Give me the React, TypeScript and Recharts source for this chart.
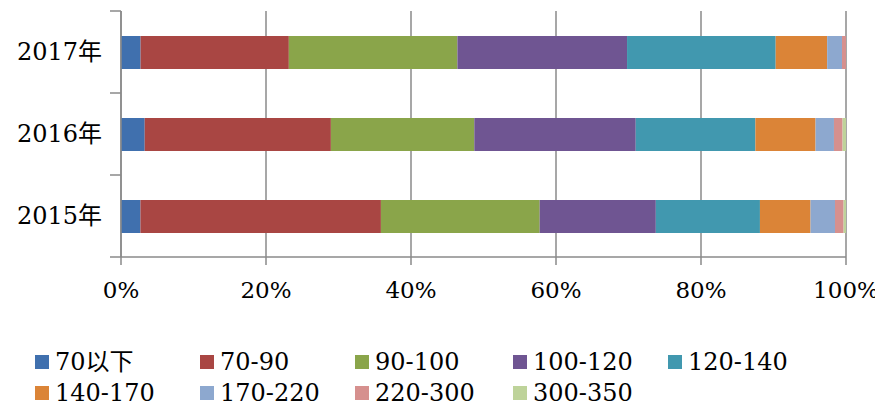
import React from 'react';
import { BarChart, Bar, XAxis, YAxis, CartesianGrid } from 'recharts';

const CATEGORIES = ['2017年', '2016年', '2015年'];
const SERIES = ['70以下', '70-90', '90-100', '100-120', '120-140', '140-170', '170-220', '220-300', '300-350'];
const COLORS = ['#4070AE', '#A94643', '#8AA54A', '#6F5592', '#4198AF', '#DB8437', '#8DA8CF', '#D6908E', '#BED39A'];
const V2017 = [2.7, 20.45, 23.25, 23.4, 20.5, 7.1, 2.05, 0.55, 0];
const V2016 = [3.27, 25.68, 19.78, 22.27, 16.5, 8.3, 2.54, 1.19, 0.47];
const V2015 = [2.68, 33.17, 21.9, 16.02, 14.36, 6.98, 3.37, 1.19, 0.33];
const X_TICKS = [0, 0.2, 0.4, 0.6, 0.8, 1];

const VALUES = [V2017, V2016, V2015];
const data = CATEGORIES.map((c, i) => {
  const row: Record<string, any> = { name: c };
  SERIES.forEach((s, j) => {
    row[s] = VALUES[i][j];
  });
  return row;
});

const FONT = "'DejaVu Serif', 'Noto Sans CJK SC', serif";
const AXIS_COLOR = '#8a8a8a';
const AXIS_X = 121;
const PLOT_TOP = 11;
const PLOT_BOTTOM = 257;
const BAND = (PLOT_BOTTOM - PLOT_TOP) / CATEGORIES.length;
const LEGEND_COLS = [35, 200, 355, 513, 668];
const LEGEND_ROWS = [362, 393];

const YTick = (props: any) => {
  const { y, payload, index, visibleTicksCount } = props;
  const isLast = index === (visibleTicksCount ?? CATEGORIES.length) - 1;
  return (
    <g>
      <line x1={AXIS_X - 11} x2={AXIS_X} y1={y - BAND / 2} y2={y - BAND / 2} stroke={AXIS_COLOR} strokeWidth={1.5} />
      {isLast && (
        <line x1={AXIS_X - 11} x2={AXIS_X} y1={y + BAND / 2} y2={y + BAND / 2} stroke={AXIS_COLOR} strokeWidth={1.5} />
      )}
      <text x={AXIS_X - 19} y={y} dy="0.35em" textAnchor="end" fill="#000" fontSize={24} fontFamily={FONT}>
        {payload.value}
      </text>
    </g>
  );
};

export default function App() {
  return (
    <div style={{ position: 'absolute', left: 0, top: 0, width: 875, height: 404, background: '#fff', overflow: 'hidden' }}>
      <BarChart
        width={875}
        height={310}
        data={data}
        layout="vertical"
        stackOffset="expand"
        margin={{ top: PLOT_TOP, right: 29, left: 0, bottom: 10 }}
      >
        <CartesianGrid vertical={true} horizontal={false} stroke={AXIS_COLOR} strokeWidth={1.5} />
        <XAxis
          type="number"
          domain={[0, 1]}
          ticks={X_TICKS}
          tickFormatter={(v: number) => `${Math.round(v * 100)}%`}
          axisLine={{ stroke: AXIS_COLOR, strokeWidth: 1.5 }}
          tickLine={{ stroke: AXIS_COLOR, strokeWidth: 1.5 }}
          tickSize={8}
          tickMargin={17}
          height={43}
          interval={0}
          tick={{ fill: '#000', fontSize: 23, fontFamily: FONT }}
        />
        <YAxis
          type="category"
          dataKey="name"
          width={AXIS_X}
          axisLine={{ stroke: AXIS_COLOR, strokeWidth: 1.5 }}
          tickLine={false}
          tick={<YTick />}
          interval={0}
        />
        {SERIES.map((s, i) => (
          <Bar key={s} dataKey={s} stackId="a" fill={COLORS[i]} barSize={33} isAnimationActive={false} />
        ))}
      </BarChart>
      {SERIES.map((s, i) => {
        const col = i % LEGEND_COLS.length;
        const row = Math.floor(i / LEGEND_COLS.length);
        return (
          <div
            key={s}
            style={{
              position: 'absolute',
              left: LEGEND_COLS[col],
              top: LEGEND_ROWS[row] - 12,
              height: 24,
              lineHeight: '24px',
              display: 'flex',
              alignItems: 'center',
              whiteSpace: 'nowrap',
              fontFamily: FONT,
              fontSize: 24,
              color: '#000',
            }}
          >
            <span style={{ display: 'inline-block', width: 14, height: 14, background: COLORS[i], marginRight: 6 }} />
            <span>{s}</span>
          </div>
        );
      })}
    </div>
  );
}
